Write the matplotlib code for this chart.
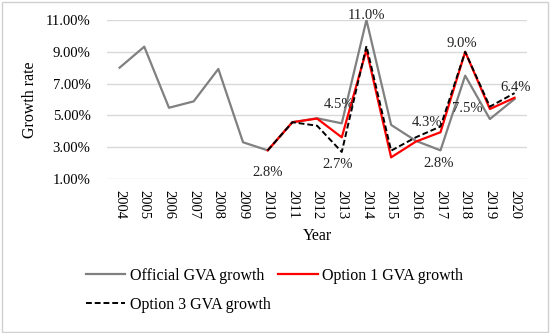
import matplotlib
matplotlib.use("Agg")
import matplotlib.pyplot as plt
import matplotlib.patches as mpatches
import numpy as np

plt.rcParams["font.family"] = ["Liberation Serif", "DejaVu Serif"]

years = [str(y) for y in range(2004, 2021)]
official = [8.0, 9.32, 5.48, 5.88, 7.92, 3.31, 2.8, 4.57, 4.82, 4.5, 11.0, 4.4, 3.4, 2.8, 7.5, 4.77, 6.03]
option1 = [None] * 6 + [2.8, 4.57, 4.8, 3.62, 9.12, 2.36, 3.35, 3.94, 9.0, 5.4, 6.11]
option3 = [None] * 6 + [2.8, 4.57, 4.35, 2.7, 9.36, 2.78, 3.62, 4.3, 9.0, 5.55, 6.4]

# annotations: (year index, y value, text, dx, dy) offsets in data units
labels = [
    (6, 2.8, "2.8%", 0.0, -1.42),
    (9, 4.5, "4.5%", -0.1, 1.2),
    (9, 2.7, "2.7%", -0.15, -0.82),
    (10, 11.0, "11.0%", 0.0, 0.3),
    (13, 4.3, "4.3%", -0.53, 0.24),
    (13, 2.8, "2.8%", -0.07, -0.81),
    (14, 9.0, "9.0%", -0.15, 0.49),
    (14, 7.5, "7.5%", 0.1, -2.08),
    (16, 6.4, "6.4%", 0.05, 0.34),
]

fig = plt.figure(figsize=(5.5, 3.33), dpi=100)
ax = fig.add_axes([0.195, 0.4625, 0.763, 0.4775])

x = np.arange(len(years))
o1 = np.array([np.nan if v is None else v for v in option1])
o3 = np.array([np.nan if v is None else v for v in option3])

ax.plot(x, official, color="#808080", lw=1.6, label="Official GVA growth", zorder=3)
ax.plot(x, o1, color="#ff0000", lw=1.6, label="Option 1 GVA growth", zorder=4)
ax.plot(x, o3, color="black", lw=1.4, ls=(0, (3, 1.5)), label="Option 3 GVA growth", zorder=5)

for i, v, t, dx, dy in labels:
    ax.text(i + dx, v + dy, t, ha="center", va="center", fontsize=10.5, color="#222222", zorder=6)

ax.set_xlim(-0.5, len(years) - 0.5)
ax.set_ylim(1, 11)
ax.set_yticks([1, 3, 5, 7, 9, 11])
ax.set_yticklabels([f"{v:.2f}%" for v in [1, 3, 5, 7, 9, 11]], fontsize=10.5)
ax.set_xticks(x)
ax.set_xticklabels(years, rotation=-90, fontsize=10.5)
ax.tick_params(length=0, pad=8)
ax.tick_params(axis="y", pad=12)
ax.grid(axis="y", color="#d9d9d9", lw=1)
ax.set_axisbelow(True)
for s in ax.spines.values():
    s.set_visible(False)
ax.set_xlabel("Year", fontsize=11.5, labelpad=6)
ax.set_ylabel("Growth rate", fontsize=11.5, labelpad=6)

h, l = ax.get_legend_handles_labels()
leg_kw = dict(frameon=False, fontsize=11.5, handlelength=2.45, handletextpad=0.3,
              borderpad=0, borderaxespad=0)
fig.legend(h[:2], l[:2], loc="center left", bbox_to_anchor=(0.156, 0.171), ncol=2,
           columnspacing=0.9, **leg_kw)
fig.legend(h[2:], l[2:], loc="center left", bbox_to_anchor=(0.156, 0.084), **leg_kw)

fig.add_artist(mpatches.Rectangle((0.003, 0.004), 0.994, 0.99, transform=fig.transFigure,
                                  fill=False, edgecolor="#d0d0d0", lw=1))

fig.savefig("out.png", dpi=100)
